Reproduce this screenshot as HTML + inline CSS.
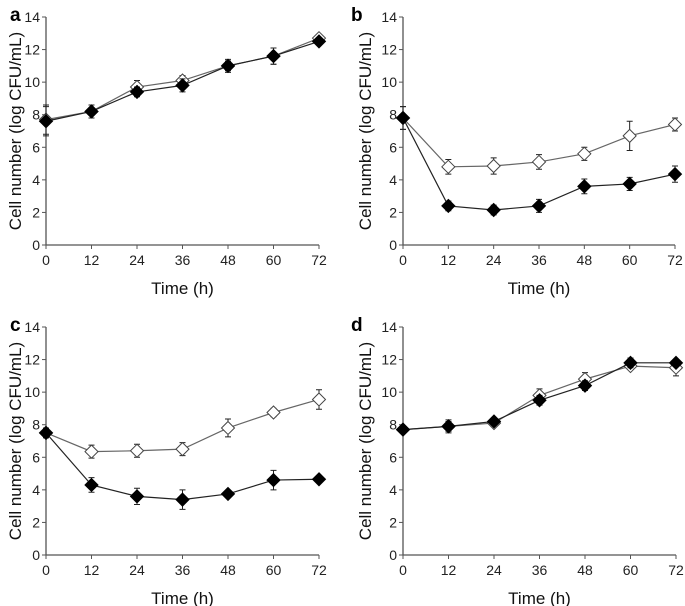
<!DOCTYPE html>
<html><head><meta charset="utf-8">
<style>
html,body{margin:0;padding:0;background:#fff;}
svg{display:block;font-family:"Liberation Sans",Arial,sans-serif;}
</style></head>
<body>
<svg id="fig" width="685" height="606" viewBox="0 0 685 606"></svg>
<script>
const hours = [0, 12, 24, 36, 48, 60, 72];
const yTicks = [0, 2, 4, 6, 8, 10, 12, 14];
const xTicks = [0, 12, 24, 36, 48, 60, 72];
const aOpen = [7.7, 8.2, 9.7, 10.1, 11.0, 11.6, 12.7];
const aOpenErr = [0.9, 0.4, 0.4, 0.3, 0.4, 0.5, 0.2];
const aFilled = [7.6, 8.2, 9.4, 9.8, 11.0, 11.6, 12.5];
const aFilledErr = [0.9, 0.4, 0.3, 0.4, 0.3, 0.5, 0.2];
const bOpen = [7.8, 4.8, 4.85, 5.1, 5.6, 6.7, 7.4];
const bOpenErr = [0.7, 0.45, 0.5, 0.45, 0.4, 0.9, 0.4];
const bFilled = [7.8, 2.4, 2.15, 2.4, 3.6, 3.75, 4.35];
const bFilledErr = [0.7, 0.3, 0.3, 0.4, 0.45, 0.4, 0.5];
const cOpen = [7.5, 6.35, 6.4, 6.5, 7.8, 8.75, 9.55];
const cOpenErr = [0.3, 0.4, 0.4, 0.4, 0.55, 0.25, 0.6];
const cFilled = [7.5, 4.3, 3.6, 3.4, 3.75, 4.6, 4.65];
const cFilledErr = [0.3, 0.45, 0.5, 0.6, 0.2, 0.6, 0.15];
const dOpen = [7.7, 7.9, 8.1, 9.8, 10.8, 11.6, 11.5];
const dOpenErr = [0.2, 0.4, 0.2, 0.4, 0.4, 0.2, 0.5];
const dFilled = [7.7, 7.9, 8.2, 9.5, 10.4, 11.8, 11.8];
const dFilledErr = [0.2, 0.3, 0.2, 0.3, 0.3, 0.3, 0.2];

const panels = [
  {id:'a', x0:46, x1:319, y0:245, y1:17, lx:10, tx:15, open:aOpen, oe:aOpenErr, filled:aFilled, fe:aFilledErr},
  {id:'b', x0:403, x1:675, y0:245, y1:17, lx:351, tx:365, open:bOpen, oe:bOpenErr, filled:bFilled, fe:bFilledErr},
  {id:'c', x0:46, x1:319, y0:555, y1:327, lx:10, tx:15, open:cOpen, oe:cOpenErr, filled:cFilled, fe:cFilledErr},
  {id:'d', x0:403, x1:676, y0:555, y1:327, lx:351, tx:365, open:dOpen, oe:dOpenErr, filled:dFilled, fe:dFilledErr}
];
const NS = 'http://www.w3.org/2000/svg';
const svg = document.getElementById('fig');
function mk(tag, attrs, parent, text){
  const e = document.createElementNS(NS, tag);
  for (const k in attrs) e.setAttribute(k, attrs[k]);
  if (text !== undefined) e.textContent = text;
  parent.appendChild(e);
  return e;
}
panels.forEach(p => {
  const g = mk('g', {}, svg);
  
  
  const sx = v => p.x0 + (v / 72) * (p.x1 - p.x0);
  const sy = v => p.y0 - (v / 14) * (p.y0 - p.y1);
  const lab = mk('text', {x: p.lx, y: p.y1 + 4, 'font-size': 19, 'font-weight': 'bold'}, g, p.id);
  
  
  const ax = mk('path', {d: `M${p.x0},${p.y1}V${p.y0}H${p.x1}`, stroke: '#555', fill: 'none', 'stroke-width': 1.3}, g);
  
  
  yTicks.forEach(t => {
    mk('line', {x1: p.x0 - 4, x2: p.x0, y1: sy(t), y2: sy(t), stroke: '#555'}, g);
    const tl = mk('text', {x: p.x0 - 6, y: sy(t) + 5, 'font-size': 14, 'text-anchor': 'end', fill: '#222'}, g, String(t));
    
    
  });
  xTicks.forEach(t => {
    mk('line', {x1: sx(t), x2: sx(t), y1: p.y0, y2: p.y0 + 4, stroke: '#555'}, g);
    const tl = mk('text', {x: sx(t), y: p.y0 + 20, 'font-size': 14, 'text-anchor': 'middle', fill: '#222'}, g, String(t));
    
    
  });
  const xt = mk('text', {x: (p.x0 + p.x1) / 2, y: p.y0 + 49, 'font-size': 17, 'text-anchor': 'middle', fill: '#111'}, g, 'Time (h)');
  
  
  const yc = (p.y0 + p.y1) / 2;
  const yt = mk('text', {x: p.tx + 6, y: yc, 'font-size': 17, 'text-anchor': 'middle', fill: '#111', transform: `rotate(-90 ${p.tx + 6} ${yc})`}, g, 'Cell number (log CFU/mL)');
  
  
  [['open', p.open, p.oe], ['filled', p.filled, p.fe]].forEach(([kind, vals, errs]) => {
    const sg = mk('g', {}, g);
    
    
    const pts = vals.map((v, i) => `${sx(hours[i])},${sy(v)}`).join(' ');
    mk('polyline', {points: pts, fill: 'none', stroke: kind === 'open' ? '#666' : '#222', 'stroke-width': 1.2}, sg);
    vals.forEach((v, i) => {
      const x = sx(hours[i]), y = sy(v), e = errs[i];
      mk('path', {d: `M${x},${sy(v - e)}V${sy(v + e)}M${x - 3},${sy(v - e)}H${x + 3}M${x - 3},${sy(v + e)}H${x + 3}`, stroke: '#222', 'stroke-width': 1}, sg);
      const r = 6.5;
      const m = mk('path', {d: `M${x},${y - r}L${x + r},${y}L${x},${y + r}L${x - r},${y}Z`,
        fill: kind === 'open' ? '#fff' : '#000', stroke: kind === 'open' ? '#444' : '#000', 'stroke-width': 1}, sg);
      
      
    });
  });
});
</script>
</body></html>
